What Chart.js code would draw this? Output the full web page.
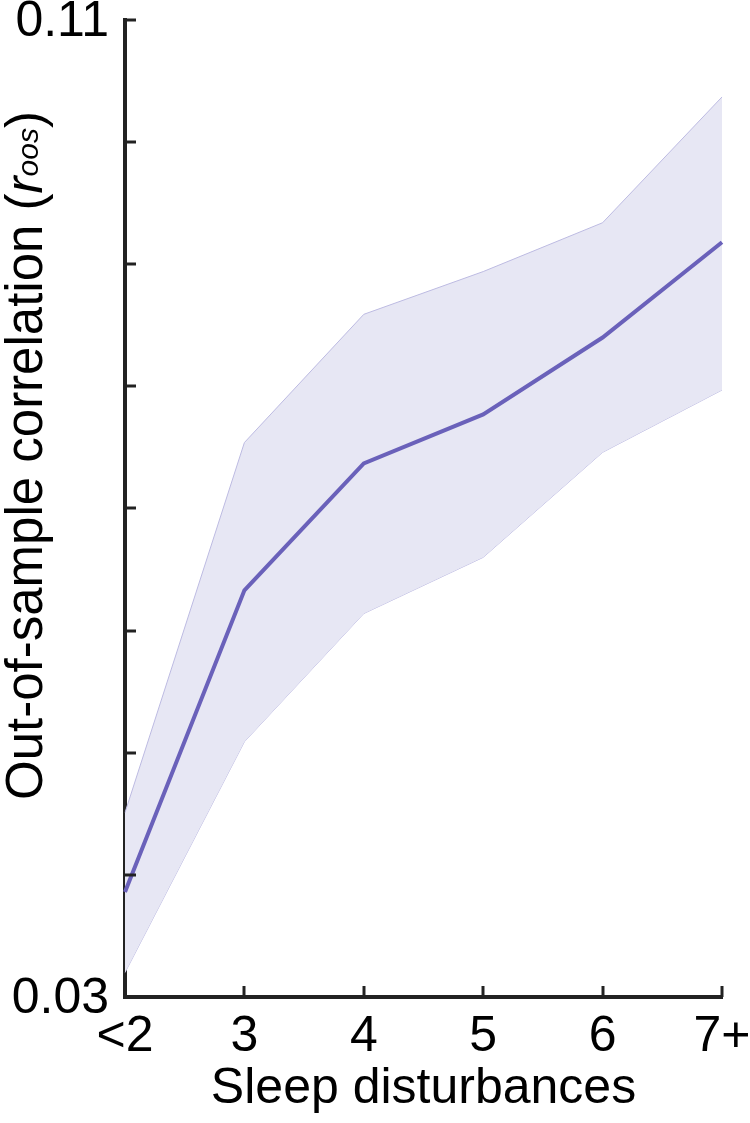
<!DOCTYPE html>
<html>
<head>
<meta charset="utf-8">
<script src="https://cdn.jsdelivr.net/npm/chart.js@4.4.1/dist/chart.umd.min.js"></script>
<style>
  body { margin: 0; background: #fff; }
  canvas { display: block; }
</style>
</head>
<body>
<canvas id="chart" width="750" height="1123"></canvas>
<script>
// Data
const categories = ['<2', '3', '4', '5', '6', '7+'];
const meanR = [0.0386, 0.0633, 0.0737, 0.0777, 0.0840, 0.0918];
const upperR = [0.0451, 0.0754, 0.0859, 0.0894, 0.0934, 0.1037];
const lowerR = [0.0320, 0.0509, 0.0614, 0.0660, 0.0746, 0.0797];
const yLabelled = ['0.03', '0.11'];

const axisColor = '#222';
const font = 'Liberation Sans, Arial, sans-serif';

// inward tick marks
const innerTicks = {
  id: 'innerTicks',
  afterDraw(chart) {
    const { ctx, chartArea, scales } = chart;
    ctx.save();
    ctx.strokeStyle = axisColor;
    ctx.lineWidth = 3;
    scales.y.ticks.forEach(t => {
      const y = Math.round(scales.y.getPixelForValue(t.value));
      ctx.beginPath();
      ctx.moveTo(chartArea.left, y);
      ctx.lineTo(chartArea.left + 11, y);
      ctx.stroke();
    });
    categories.forEach((c, i) => {
      const x = Math.round(scales.x.getPixelForValue(i));
      ctx.beginPath();
      ctx.moveTo(x, chartArea.bottom);
      ctx.lineTo(x, chartArea.bottom - 11);
      ctx.stroke();
    });
    ctx.restore();
  }
};

// y title with italic subscript
const yTitle = {
  id: 'yTitle',
  afterDraw(chart) {
    const { ctx } = chart;
    ctx.save();
    ctx.translate(42, 800);
    ctx.rotate(-Math.PI / 2);
    ctx.fillStyle = '#000';
    ctx.textBaseline = 'alphabetic';
    ctx.textAlign = 'left';
    let x = 0;
    const part = (txt, f, dy) => {
      ctx.font = f;
      ctx.fillText(txt, x, dy);
      x += ctx.measureText(txt).width;
    };
    part('Out-of-sample correlation (', '51px ' + font, 0);
    part('r', 'italic 51px ' + font, 0);
    part('oos', 'italic 30px ' + font, -4);
    part(')', '51px ' + font, 0);
    ctx.restore();
  }
};

const noPad = scale => {
  scale.paddingTop = 0;
  scale.paddingBottom = 0;
  scale.paddingLeft = 0;
  scale.paddingRight = 0;
};

new Chart(document.getElementById('chart'), {
  type: 'line',
  data: {
    labels: categories,
    datasets: [
      {
        data: meanR,
        borderColor: '#6a61ba',
        borderWidth: 4,
        fill: false,
        pointRadius: 0,
        tension: 0
      },
      {
        data: upperR,
        borderColor: '#bdbbe2',
        borderWidth: 1,
        backgroundColor: 'rgba(231, 231, 244, 1)',
        fill: '+1',
        pointRadius: 0,
        tension: 0
      },
      {
        data: lowerR,
        borderColor: '#bdbbe2',
        borderWidth: 1,
        fill: false,
        pointRadius: 0,
        tension: 0
      }
    ]
  },
  options: {
    responsive: false,
    animation: false,
    layout: { padding: { top: 20, right: 28, left: 0, bottom: 0 } },
    plugins: { legend: { display: false }, tooltip: { enabled: false } },
    scales: {
      x: {
        offset: false,
        grid: { display: false, drawTicks: false },
        border: { display: true, color: axisColor, width: 4 },
        ticks: { color: '#000', font: { family: font, size: 50 }, padding: 10, maxRotation: 0, autoSkip: false },
        title: { display: true, text: 'Sleep disturbances', color: '#000', font: { family: font, size: 50 }, padding: { top: 0, bottom: 4 } },
        afterFit(scale) { scale.height = 126; noPad(scale); }
      },
      y: {
        min: 0.03,
        max: 0.11,
        grid: { display: false, drawTicks: false },
        border: { display: true, color: axisColor, width: 4 },
        ticks: {
          stepSize: 0.01,
          color: '#000',
          font: { family: font, size: 50 },
          padding: 16,
          labelOffset: 2,
          callback: v => yLabelled.includes(v.toFixed(2)) ? v.toFixed(2) : ''
        },
        afterFit(scale) { scale.width = 125; noPad(scale); }
      }
    }
  },
  plugins: [innerTicks, yTitle]
});
</script>
</body>
</html>
